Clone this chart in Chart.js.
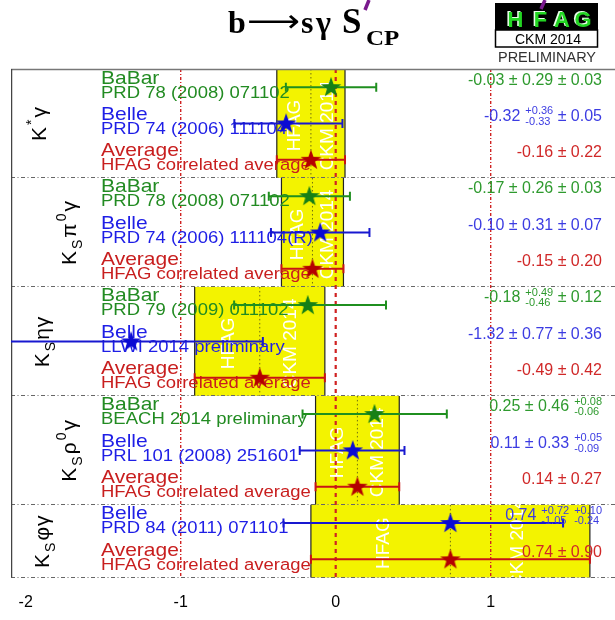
<!DOCTYPE html>
<html><head><meta charset="utf-8">
<script src="https://cdn.jsdelivr.net/npm/chart.js@4.4.0/dist/chart.umd.min.js"></script>
<style>html,body{margin:0;padding:0;background:#fff;}canvas{display:block;}</style>
</head><body>
<canvas id="c" width="615" height="620"></canvas>
<script>
// ---------------- data ----------------
const decays = ['K^*γ', 'K_Sπ^0γ', 'K_Sηγ', 'K_Sρ^0γ', 'K_Sφγ'];
const decayOfRow = [0,0,0, 1,1,1, 2,2,2, 3,3,3, 4,4];
const experiments = ['BaBar','Belle','Average','BaBar','Belle','Average','BaBar','Belle','Average','BaBar','Belle','Average','Belle','Average'];
const references = ['PRD 78 (2008) 071102','PRD 74 (2006) 111104','HFAG correlated average',
  'PRD 78 (2008) 071102','PRD 74 (2006) 111104(R)','HFAG correlated average',
  'PRD 79 (2009) 011102','LLWI 2014 preliminary','HFAG correlated average',
  'BEACH 2014 preliminary','PRL 101 (2008) 251601','HFAG correlated average',
  'PRD 84 (2011) 071101','HFAG correlated average'];
const values    = [-0.03,-0.32,-0.16, -0.17,-0.10,-0.15, -0.18,-1.32,-0.49, 0.25,0.11,0.14, 0.74,0.74];
const statPlus  = [ 0.29, 0.36, 0.22,  0.26, 0.31, 0.20,  0.49, 0.77, 0.42, 0.46,0.33,0.27, 0.72,0.90];
const statMinus = [ 0.29, 0.33, 0.22,  0.26, 0.31, 0.20,  0.46, 0.77, 0.42, 0.46,0.33,0.27, 1.05,0.90];
const sysPlus   = [ 0.03, 0.05, null,  0.03, 0.07, null,  0.12, 0.36, null, 0.08,0.05,null, 0.10,null];
const sysMinus  = [ 0.03, 0.05, null,  0.03, 0.07, null,  0.12, 0.36, null, 0.06,0.09,null, 0.24,null];
const xTicks = [-2, -1, 0, 1];
const refLines = [-1, 0, 1];

// ---------------- styles ----------------
const labelColor = {BaBar:'#228b22', Belle:'#1e1ee6', Average:'#c81e1e'};
const valueColor = {BaBar:'#2e9a2e', Belle:'#3c3ce2', Average:'#d02828'};
const barColor   = {BaBar:'#1f8f1f', Belle:'#1818d0', Average:'#c81414'};
const starColor  = {BaBar:'#168016', Belle:'#0a0ad2', Average:'#b40000'};
const labelX = [46, 76, 49, 76, 49];
const SANS = '"Liberation Sans", Arial, sans-serif';

function starImg(color){
  const c = document.createElement('canvas'); c.width = 24; c.height = 24;
  const g = c.getContext('2d'); g.beginPath();
  for (let k = 0; k < 10; k++){
    const r = k % 2 ? 4.3 : 10.8, a = -Math.PI/2 + k*Math.PI/5;
    const px = 12 + r*Math.cos(a), py = 12.5 + r*Math.sin(a);
    k ? g.lineTo(px,py) : g.moveTo(px,py);
  }
  g.closePath(); g.fillStyle = color; g.fill();
  return c;
}

const rowsOf = k => decayOfRow.map((d,i)=>d===k?i:-1).filter(i=>i>=0);
const tot = (s, y) => Math.sqrt(s*s + (y==null?0:y*y));

function sText(ctx, t, x, y, font, color, sy, align){
  ctx.save(); ctx.font = font; ctx.fillStyle = color; ctx.textAlign = align||'left'; ctx.textBaseline='alphabetic';
  ctx.translate(x, y); ctx.scale(1, sy); ctx.fillText(t, 0, 0); ctx.restore();
}

function richRotated(ctx, str, bx, cy, size){
  const segs = [];
  for (let i = 0; i < str.length; i++){
    const ch = str[i];
    if (ch === '^' || ch === '_'){ segs.push({t:str[i+1], kind: ch==='^'?'sup':'sub'}); i++; }
    else segs.push({t:ch, kind:'n'});
  }
  const small = Math.round(size*0.66);
  let w = 0;
  segs.forEach(s => { ctx.font = (s.kind==='n'?size:small) + 'px ' + SANS; s.w = ctx.measureText(s.t).width + (s.kind==='n'?1:3); w += s.w; });
  ctx.save(); ctx.translate(bx, cy); ctx.rotate(-Math.PI/2); ctx.fillStyle = '#000'; ctx.textBaseline='alphabetic';
  let xx = -w/2;
  segs.forEach(s => {
    ctx.font = (s.kind==='n'?size:small) + 'px ' + SANS;
    const dy = s.kind==='sup' ? -size*0.5 : s.kind==='sub' ? size*0.3 : 0;
    ctx.fillText(s.t, xx + (s.kind==='n'?0:1), dy); xx += s.w;
  });
  ctx.restore();
}

function valueTokens(i){
  const t = [{kind:'main', s: values[i].toFixed(2)}];
  const add = (p, m) => {
    if (p == null) return;
    if (p === m) t.push({kind:'main', s:' ± ' + p.toFixed(2)});
    else t.push({kind:'stack', top:'+' + p.toFixed(2), bot:'-' + m.toFixed(2)});
  };
  add(statPlus[i], statMinus[i]); add(sysPlus[i], sysMinus[i]);
  return t;
}

const hfagPlugin = {
  id: 'hfag',
  beforeDatasetsDraw(chart){
    const {ctx, chartArea: ca, scales: {x, y}} = chart;
    ctx.save();
    ctx.beginPath(); ctx.rect(ca.left, ca.top - 1, ca.right - ca.left, ca.bottom - ca.top + 2); ctx.clip();
    // yellow average bands
    decays.forEach((d, k) => {
      const rows = rowsOf(k);
      const ai = rows.find(i => experiments[i] === 'Average');
      const xl = x.getPixelForValue(values[ai] - statMinus[ai]), xr = x.getPixelForValue(values[ai] + statPlus[ai]);
      const yt = y.getPixelForValue(rows[0]), yb = y.getPixelForValue(rows[rows.length-1] + 1);
      ctx.fillStyle = '#f3f300'; ctx.fillRect(xl, yt, xr - xl, yb - yt);
      ctx.save(); ctx.beginPath(); ctx.rect(xl, yt, xr - xl, yb - yt); ctx.clip();
      ctx.fillStyle = '#fff'; ctx.font = '19px ' + SANS; ctx.textAlign = 'center'; ctx.textBaseline = 'middle';
      [['HFAG', 0.26], ['CKM 2014', 0.74]].forEach(([t, f]) => {
        ctx.save(); ctx.translate(xl + f*(xr - xl), (yt + yb)/2 + 2); ctx.rotate(-Math.PI/2); ctx.fillText(t, 0, 0); ctx.restore();
      });
      ctx.restore();
      ctx.strokeStyle = '#222'; ctx.lineWidth = 1.2; ctx.setLineDash([]);
      ctx.beginPath(); ctx.moveTo(xl, yt); ctx.lineTo(xl, yb); ctx.moveTo(xr, yt); ctx.lineTo(xr, yb); ctx.stroke();
      const xc = x.getPixelForValue(values[ai]);
      ctx.strokeStyle = '#707010'; ctx.lineWidth = 1; ctx.setLineDash([1.5, 2.5]);
      ctx.beginPath(); ctx.moveTo(xc, yt); ctx.lineTo(xc, yb); ctx.stroke();
    });
    // panel separators (dash-dot)
    ctx.strokeStyle = '#666'; ctx.lineWidth = 1; ctx.setLineDash([4, 2.5, 1, 2.5]);
    decays.forEach((d, k) => {
      const rows = rowsOf(k);
      const yb = Math.round(y.getPixelForValue(rows[rows.length-1] + 1)) - 0.5;
      ctx.beginPath(); ctx.moveTo(ca.left, yb); ctx.lineTo(ca.right, yb); ctx.stroke();
    });
    // reference lines at -1, 0, 1
    refLines.forEach(v => {
      const px = x.getPixelForValue(v);
      ctx.strokeStyle = '#d02222';
      if (v === 0){ ctx.lineWidth = 2.2; ctx.setLineDash([4, 4]); }
      else { ctx.lineWidth = 1.4; ctx.setLineDash([3, 2, 1, 2]); }
      ctx.beginPath(); ctx.moveTo(px, ca.top); ctx.lineTo(px, ca.bottom); ctx.stroke();
    });
    ctx.setLineDash([]);
    // frame (top solid, left solid)
    ctx.strokeStyle = '#777'; ctx.lineWidth = 1.5;
    ctx.beginPath(); ctx.moveTo(ca.left, ca.top + 0.5); ctx.lineTo(ca.right, ca.top + 0.5); ctx.stroke();
    ctx.strokeStyle = '#444'; ctx.lineWidth = 1.5;
    ctx.beginPath(); ctx.moveTo(ca.left + 0.5, ca.top); ctx.lineTo(ca.left + 0.5, ca.bottom); ctx.stroke();
    ctx.restore();

    // panel labels (rotated)
    decays.forEach((d, k) => {
      const rows = rowsOf(k);
      const cy = (y.getPixelForValue(rows[0]) + y.getPixelForValue(rows[rows.length-1] + 1)) / 2;
      richRotated(ctx, d, labelX[k], cy, 21);
    });
    // experiment / reference labels
    experiments.forEach((e, i) => {
      const T = y.getPixelForValue(i);
      sText(ctx, e, 101, T + 14.5, '21px ' + SANS, labelColor[e], 0.9);
      sText(ctx, references[i], 101, T + 28.5, '18.5px ' + SANS, labelColor[e], 0.85);
    });
    // error bars
    ctx.save();
    ctx.beginPath(); ctx.rect(ca.left, ca.top, ca.right - ca.left, ca.bottom - ca.top); ctx.clip();
    experiments.forEach((e, i) => {
      const yc = y.getPixelForValue(i + 0.5);
      const lo = x.getPixelForValue(values[i] - tot(statMinus[i], sysMinus[i]));
      const hi = x.getPixelForValue(values[i] + tot(statPlus[i], sysPlus[i]));
      ctx.strokeStyle = barColor[e]; ctx.lineWidth = 2; ctx.setLineDash([]);
      ctx.beginPath();
      ctx.moveTo(lo, yc); ctx.lineTo(hi, yc);
      ctx.moveTo(lo, yc - 4.5); ctx.lineTo(lo, yc + 4.5);
      ctx.moveTo(hi, yc - 4.5); ctx.lineTo(hi, yc + 4.5);
      ctx.stroke();
    });
    ctx.restore();
  },
  afterDraw(chart){
    const {ctx, scales: {y}} = chart;
    // value texts on the right
    experiments.forEach((e, i) => {
      const B = y.getPixelForValue(i) + 15.5;
      const toks = valueTokens(i);
      const big = '16px ' + SANS, small = '11px ' + SANS;
      let w = 0;
      toks.forEach(t => {
        if (t.kind === 'main'){ ctx.font = big; t.w = ctx.measureText(t.s).width; }
        else { ctx.font = small; t.w = Math.max(ctx.measureText(t.top).width, ctx.measureText(t.bot).width); t.gap = 5; w += 5; }
        w += t.w;
      });
      let xx = 602 - w;
      ctx.fillStyle = valueColor[e]; ctx.textAlign = 'left'; ctx.textBaseline = 'alphabetic';
      toks.forEach(t => {
        if (t.kind === 'main'){ ctx.font = big; ctx.fillText(t.s, xx, B); xx += t.w; }
        else { xx += t.gap; ctx.font = small; ctx.fillText(t.top, xx, B - 6.5); ctx.fillText(t.bot, xx, B + 4); xx += t.w; }
      });
    });
    // title
    ctx.save();
    ctx.fillStyle = '#000'; ctx.textBaseline = 'alphabetic'; ctx.textAlign = 'left';
    const serifB = '"Liberation Serif", "DejaVu Serif", serif';
    ctx.font = 'bold 32px ' + serifB; ctx.fillText('b', 228, 33);
    ctx.font = '32px "DejaVu Sans", sans-serif';
    const aw = ctx.measureText('⟶').width;
    ctx.save(); ctx.translate(247, 32); ctx.scale(53 / aw, 1); ctx.fillText('⟶', 0, 0); ctx.restore();
    ctx.font = 'bold 32px ' + serifB; ctx.fillText('s', 301, 33);
    ctx.fillText('γ', 316, 33);
    ctx.font = 'bold 35px ' + serifB; ctx.fillText('S', 342, 33);
    ctx.save(); ctx.translate(366, 45); ctx.scale(1, 0.85); ctx.font = 'bold 25px ' + serifB; ctx.fillText('CP', 0, 0); ctx.restore();
    ctx.restore();
    // logo
    ctx.save();
    ctx.fillStyle = '#000'; ctx.fillRect(495, 3, 103, 27);
    ctx.fillStyle = '#fff'; ctx.fillRect(495, 30, 103, 17);
    ctx.strokeStyle = '#000'; ctx.lineWidth = 1.5; ctx.strokeRect(495.5, 30, 102, 17);
    ctx.font = 'bold 22px ' + SANS; ctx.textAlign = 'center'; ctx.textBaseline = 'alphabetic';
    [['H', 515], ['F', 540], ['A', 561.5], ['G', 582.5]].forEach(([c, cx]) => {
      ctx.fillStyle = '#e8ffe8'; ctx.fillText(c, cx - 1, 26);
      ctx.fillStyle = '#22d622'; ctx.fillText(c, cx + 0.5, 27);
    });
    ctx.fillStyle = '#000'; ctx.font = '14px ' + SANS; ctx.fillText('CKM 2014', 548, 43.5);
    ctx.fillStyle = '#333'; ctx.font = '14.5px ' + SANS; ctx.fillText('PRELIMINARY', 547, 62);
    ctx.strokeStyle = '#7a1a8e'; ctx.lineWidth = 3.5;
    ctx.beginPath(); ctx.moveTo(369, 0); ctx.lineTo(365, 10); ctx.stroke();
    ctx.beginPath(); ctx.moveTo(545, 0); ctx.lineTo(541, 9); ctx.stroke();
    ctx.restore();
  }
};

const datasets = ['BaBar', 'Belle', 'Average'].map(e => ({
  label: e,
  data: experiments.map((ex, i) => ex === e ? {x: values[i], y: i + 0.5} : null).filter(p => p),
  pointStyle: starImg(starColor[e]),
  pointRadius: 10, pointHoverRadius: 10,
  showLine: false
}));

new Chart(document.getElementById('c'), {
  type: 'scatter',
  data: {datasets},
  options: {
    responsive: false, animation: false, devicePixelRatio: 1,
    layout: {autoPadding: false, padding: {left: 11, right: 0, top: 69, bottom: 8.3}},
    plugins: {legend: {display: false}, tooltip: {enabled: false}},
    events: [],
    scales: {
      x: {type: 'linear', min: -2.095, max: 1.802,
          grid: {display: false, drawTicks: false}, border: {display: false},
          afterBuildTicks: s => { s.ticks = xTicks.map(v => ({value: v})); },
          afterFit: s => { s.height = 34.2; },
          ticks: {padding: 15, color: '#000', font: {family: '"Liberation Sans"', size: 16}, callback: v => String(v)}},
      y: {type: 'linear', min: 0, max: 14, reverse: true, display: false}
    }
  },
  plugins: [hfagPlugin]
});
</script>
</body></html>
